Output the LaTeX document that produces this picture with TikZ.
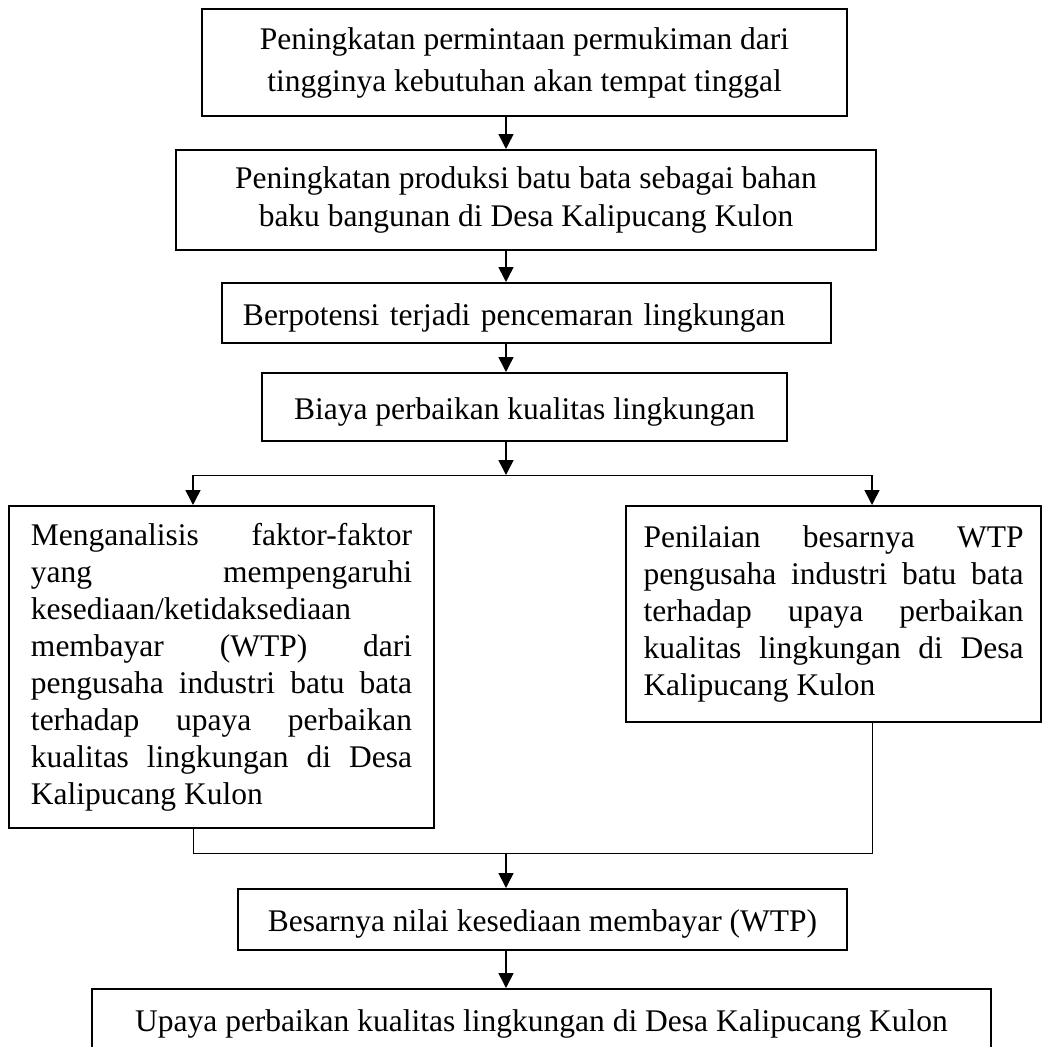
\documentclass[tikz,border=0pt]{standalone}
\usepackage{fontspec}
\setmainfont{Liberation Serif}
\usetikzlibrary{arrows.meta}
\tikzset{
		basic/.style={draw, line width=0.8pt, inner sep=0pt, align=center, anchor=center},
		tunggal/.style={basic, text height=11pt, text depth=1.4pt},
		rata/.style={basic, align=justify, text width=152.4pt},
		panah/.style={line width=0.6pt, -{Triangle[length=6pt, width=6pt]}},
		garis/.style={line width=0.4pt}
	}

\begin{document}
\begin{tikzpicture}[x=0.4pt, y=-0.4pt]
		\fontsize{12.6}{14.8} \selectfont \tolerance=10000 \hyphenpenalty=10000
		\useasboundingbox (0,0) rectangle (1042,1047);
		\clip (0,0) rectangle (1042,1047);
		% sumbu
		\coordinate (sumbu) at (506,0);
		\coordinate (kiri) at (193,0);
		\coordinate (kanan) at (872,0);
		\coordinate (cabang) at (506,475);
		\coordinate (gabung) at (506,853);
		% kotak atas
		\node[basic, minimum width=258pt, minimum height=42.8pt](peninper) at (524.5,62.5){Peningkatan permintaan permukiman dari\\[2pt] tingginya kebutuhan akan tempat tinggal};
		\node[basic, minimum width=280pt, minimum height=40pt](prodbata) at (526,200){Peningkatan produksi batu bata sebagai bahan\\[0.4pt] baku bangunan di Desa Kalipucang Kulon};
		\node[tunggal, align=left, text width=226.8pt, minimum width=243.6pt, minimum height=24pt](potecema) at (526.5,313){Berpotensi terjadi pencemaran lingkungan};
		\node[tunggal, minimum width=210pt, minimum height=27.2pt](biayperb) at (524.5,407){Biaya perbaikan kualitas lingkungan};
		% dua cabang
		\node[rata, minimum width=170pt, minimum height=128.8pt](analfakt) at (221.5,667){Menganalisis faktor-faktor\linebreak yang mempengaruhi\linebreak kesediaan/ketidaksediaan\linebreak membayar (WTP) dari\linebreak pengusaha industri batu bata\linebreak terhadap upaya perbaikan\linebreak kualitas lingkungan di Desa\linebreak Kalipucang Kulon};
		\node[rata, text width=152pt, minimum width=166pt, minimum height=86.4pt](nilawtp) at (833.5,614){Penilaian besarnya WTP\linebreak pengusaha industri batu bata\linebreak terhadap upaya perbaikan\linebreak kualitas lingkungan di Desa\linebreak Kalipucang Kulon};
		% kotak bawah
		\node[tunggal, minimum width=243.6pt, minimum height=24.4pt](besanila) at (542.5,919.5){Besarnya nilai kesediaan membayar (WTP)};
		\node[tunggal, minimum width=359.6pt, minimum height=24.4pt](upayperb) at (541.5,1019.5){Upaya perbaikan kualitas lingkungan di Desa Kalipucang Kulon};
		% panah
		\draw[panah] (peninper.south -| sumbu) -- (prodbata.north -| sumbu);
		\draw[panah] (prodbata.south -| sumbu) -- (potecema.north -| sumbu);
		\draw[panah] (potecema.south -| sumbu) -- (biayperb.north -| sumbu);
		\draw[panah] (biayperb.south -| sumbu) -- (cabang);
		\draw[garis] (kiri |- cabang) -- (kanan |- cabang);
		\draw[panah] (kiri |- cabang) -- (analfakt.north -| kiri);
		\draw[panah] (kanan |- cabang) -- (nilawtp.north -| kanan);
		\draw[garis] (analfakt.south -| kiri) -- (kiri |- gabung) -- (kanan |- gabung) -- (nilawtp.south -| kanan);
		\draw[panah] (gabung) -- (besanila.north -| sumbu);
		\draw[panah] (besanila.south -| sumbu) -- (upayperb.north -| sumbu);
	\end{tikzpicture}
\end{document}
